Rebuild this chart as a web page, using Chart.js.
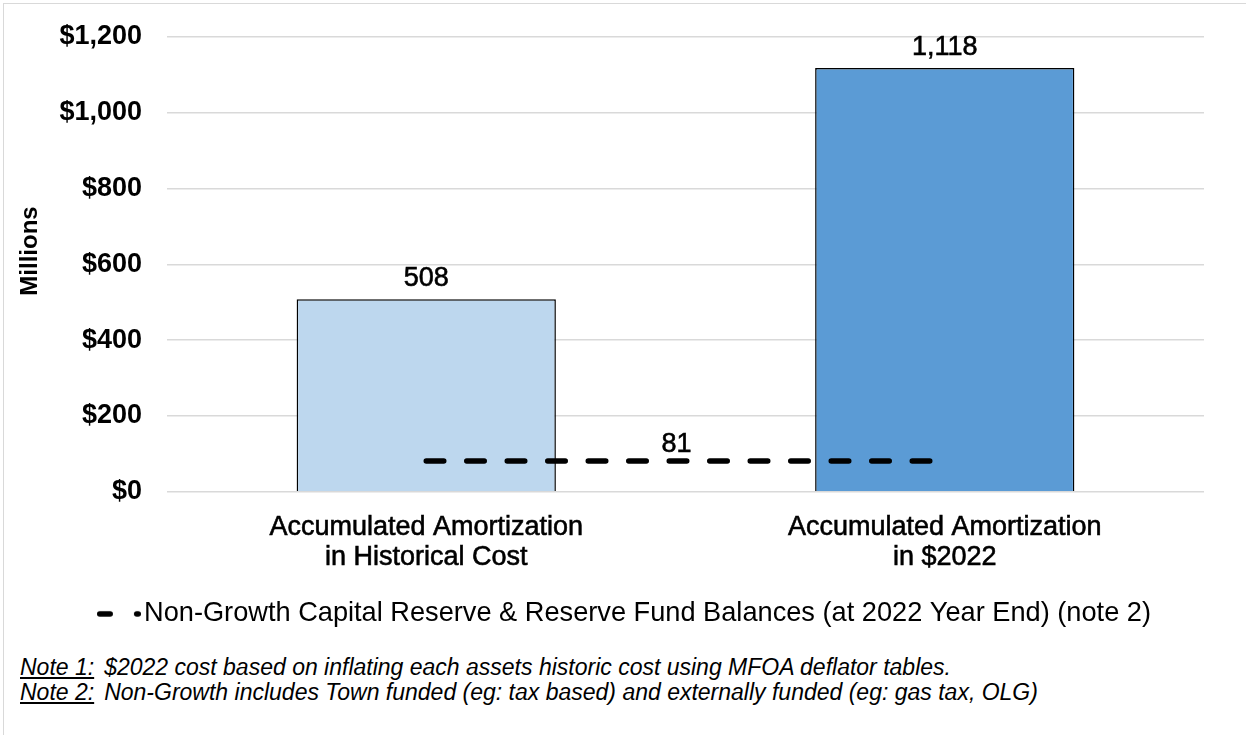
<!DOCTYPE html>
<html>
<head>
<meta charset="utf-8">
<script src="https://cdn.jsdelivr.net/npm/chart.js@4/dist/chart.umd.min.js"></script>
<style>
  html, body { margin: 0; padding: 0; background: #fff; width: 1246px; height: 735px; overflow: hidden;
    font-family: "Liberation Sans", Arial, sans-serif; }
  #frame { position: absolute; left: 3px; top: 3px; width: 1300px; height: 800px;
    border: 1.5px solid #d9d9d9; box-sizing: border-box; }
  #wrap { position: absolute; left: 0; top: 0; width: 1246px; height: 650px; }
  #notes { position: absolute; left: 20px; top: 655px; font-style: italic; font-size: 23px;
    line-height: 25px; color: #000; white-space: nowrap; }
  #notes .tag { text-decoration: underline; margin-right: 10px; }
</style>
</head>
<body>
<div id="frame"></div>
<div id="wrap"><canvas id="chart" width="1246" height="650"></canvas></div>
<div id="notes">
  <div><span class="tag">Note 1:</span>$2022 cost based on inflating each assets historic cost using MFOA deflator tables.</div>
  <div><span class="tag">Note 2:</span>Non-Growth includes Town funded (eg: tax based) and externally funded (eg: gas tax, OLG)</div>
</div>
<script>
// Categories and values
const categories = [
  ['Accumulated Amortization', 'in Historical Cost'],
  ['Accumulated Amortization', 'in $2022']
];
const amortization = [508, 1118];          // $ millions
const reserveBalance = [81, 81];            // $ millions, 2022 year end
const barColors = ['#BDD7EE', '#5B9BD5'];
const axisMin = 0;
const axisMax = 1200;
const axisStep = 200;
const amortizationLabel = 'Accumulated Amortization';
const reserveLabel = 'Non-Growth Capital Reserve & Reserve Fund Balances (at 2022 Year End) (note 2)';
const axisTitle = 'Millions';

const FONT = '"Liberation Sans", Arial, sans-serif';
Chart.defaults.font.family = FONT;
Chart.defaults.color = '#000';

// Legend swatch: long dash + short dash, like the dashed series line
const swatch = document.createElement('canvas');
swatch.width = 44; swatch.height = 8;
(function () {
  const g = swatch.getContext('2d');
  g.fillStyle = '#000';
  g.beginPath(); g.roundRect(0, 1.25, 16, 5.5, 2.75); g.fill();
  g.beginPath(); g.roundRect(37, 1.25, 7, 5.5, 2.75); g.fill();
})();

const fmt = v => v.toLocaleString('en-US');

// Value labels above the bars and over the dashed line
const valueLabels = {
  id: 'valueLabels',
  afterDatasetsDraw(chart) {
    const ctx = chart.ctx;
    ctx.save();
    ctx.fillStyle = '#000';
    ctx.strokeStyle = '#000';
    ctx.lineWidth = 0.6;
    ctx.font = '27px ' + FONT;
    ctx.textAlign = 'center';
    ctx.textBaseline = 'alphabetic';
    const put = (t, x, y) => { ctx.fillText(t, x, y); ctx.strokeText(t, x, y); };
    const bars = chart.getDatasetMeta(0).data;
    bars.forEach((bar, i) => put(fmt(amortization[i]), bar.x, bar.y - 13));
    const pts = chart.getDatasetMeta(1).data;
    const mx = (pts[0].x + pts[pts.length - 1].x) / 2 - 9;
    put(fmt(reserveBalance[0]), mx, pts[0].y - 9);
    ctx.restore();
  }
};

// Vertical axis title
const yTitle = {
  id: 'yTitle',
  afterDraw(chart) {
    const ctx = chart.ctx;
    ctx.save();
    ctx.translate(30, 251);
    ctx.rotate(-Math.PI / 2);
    ctx.fillStyle = '#000';
    ctx.font = 'bold 24px ' + FONT;
    ctx.textAlign = 'center';
    ctx.textBaseline = 'middle';
    ctx.fillText(axisTitle, 0, 0);
    ctx.restore();
  }
};

new Chart(document.getElementById('chart'), {
  type: 'bar',
  data: {
    labels: categories,
    datasets: [
      {
        label: amortizationLabel,
        data: amortization,
        backgroundColor: barColors,
        borderColor: '#000',
        borderWidth: 1.5,
        categoryPercentage: 0.5,
        barPercentage: 1,
        order: 1
      },
      {
        type: 'line',
        label: reserveLabel,
        data: reserveBalance,
        borderColor: '#000',
        backgroundColor: '#000',
        borderWidth: 5.5,
        borderDash: [17.5, 23],
        borderCapStyle: 'round',
        pointRadius: 0,
        fill: false,
        order: 0
      }
    ]
  },
  options: {
    responsive: false,
    animation: false,
    devicePixelRatio: 1,
    layout: { padding: { left: 54.4, right: 42, top: 37, bottom: 12.5 } },
    plugins: {
      tooltip: { enabled: false },
      legend: {
        position: 'bottom',
        labels: {
          filter: item => item.datasetIndex === 1,
          usePointStyle: true,
          pointStyle: swatch,
          pointStyleWidth: 23,
          font: { size: 27.2 },
          color: '#000',
          padding: 10
        }
      }
    },
    scales: {
      x: {
        grid: { display: false },
        border: { display: false },
        ticks: {
          font: { size: 27, lineHeight: 1.111 },
          color: '#000',
          textStrokeColor: '#000',
          textStrokeWidth: 0.6,
          padding: 13,
          maxRotation: 0
        },
        afterFit(s) { s.height = 98.5; }
      },
      y: {
        min: axisMin,
        max: axisMax,
        ticks: {
          stepSize: axisStep,
          font: { size: 27, weight: 'bold' },
          color: '#000',
          padding: 0,
          callback: v => '$' + fmt(v)
        },
        // invisible 25px tick marks keep the labels clear of the plot
        grid: { color: '#d9d9d9', lineWidth: 1.5, drawTicks: true, tickLength: 25, tickColor: 'rgba(0,0,0,0)' },
        border: { display: false },
        afterFit(s) { s.width = 167 - 54.4; }
      }
    }
  },
  plugins: [valueLabels, yTitle]
});
</script>
</body>
</html>
